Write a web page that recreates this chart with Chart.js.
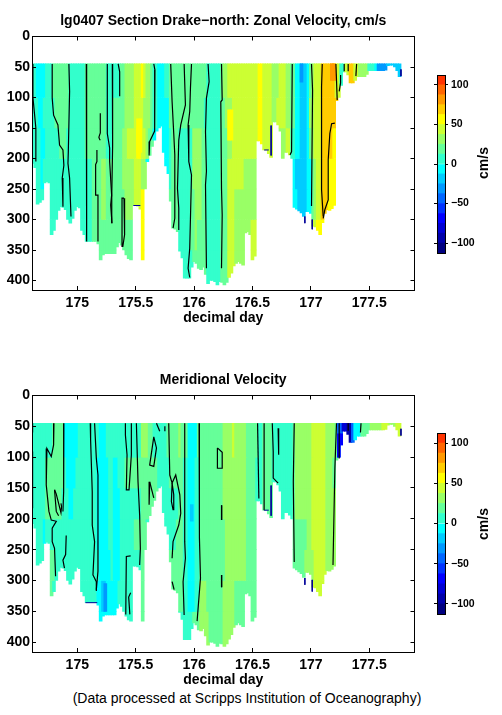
<!DOCTYPE html>
<html>
<head>
<meta charset="utf-8">
<title>lg0407 Section Drake-north</title>
<script src="https://cdn.jsdelivr.net/npm/chart.js@4"></script>
<style>
    html, body { margin: 0; padding: 0; background: #fff; }
    body { position: relative; width: 502px; height: 715px; overflow: hidden; font-family: "Liberation Sans", sans-serif; color: #000; }
    canvas { position: absolute; }
    .unidad { position: absolute; font-weight: bold; font-size: 14px; line-height: 16px; width: 50px; text-align: center; transform: rotate(-90deg); }
    #nota { position: absolute; left: 0; width: 494px; text-align: center; top: 690px; font-size: 14px; line-height: 16px; }
</style>
</head>
<body>
<canvas id="zonal-canvas" style="left:0;top:0"></canvas>
<canvas id="meridional-canvas" style="left:0;top:359px"></canvas>
<canvas id="zonal-bar-canvas" style="left:425px;top:65px"></canvas>
<canvas id="meridional-bar-canvas" style="left:425px;top:423px"></canvas>
<div class="unidad" style="left:458px;top:155px">cm/s</div>
<div class="unidad" style="left:458px;top:516px">cm/s</div>
<div id="nota">(Data processed at Scripps Institution of Oceanography)</div>

<script>
// columnas del transecto (decimal day)
const days = [
    174.62, 174.64, 174.66, 174.68, 174.70, 174.72, 174.74, 174.76, 174.78, 174.80,
    174.82, 174.84, 174.86, 174.88, 174.90, 174.92, 174.94, 174.96, 174.98, 175.00,
    175.02, 175.04, 175.06, 175.08, 175.10, 175.12, 175.14, 175.16, 175.18, 175.20,
    175.22, 175.24, 175.26, 175.28, 175.30, 175.32, 175.34, 175.36, 175.38, 175.40,
    175.42, 175.44, 175.46, 175.48, 175.50, 175.52, 175.54, 175.56, 175.58, 175.60,
    175.62, 175.64, 175.66, 175.68, 175.70, 175.72, 175.74, 175.76, 175.78, 175.80,
    175.82, 175.84, 175.86, 175.88, 175.90, 175.92, 175.94, 175.96, 175.98, 176.00,
    176.02, 176.04, 176.06, 176.08, 176.10, 176.12, 176.14, 176.16, 176.18, 176.20,
    176.22, 176.24, 176.26, 176.28, 176.30, 176.32, 176.34, 176.36, 176.38, 176.40,
    176.42, 176.44, 176.46, 176.48, 176.50, 176.52, 176.54, 176.56, 176.58, 176.60,
    176.62, 176.64, 176.66, 176.68, 176.70, 176.72, 176.74, 176.76, 176.78, 176.80,
    176.82, 176.84, 176.86, 176.88, 176.90, 176.92, 176.94, 176.96, 176.98, 177.00,
    177.02, 177.04, 177.06, 177.08, 177.10, 177.12, 177.14, 177.16, 177.18, 177.20,
    177.22, 177.24, 177.26, 177.28, 177.30, 177.32, 177.34, 177.36, 177.38, 177.40,
    177.42, 177.44, 177.46, 177.48, 177.50, 177.52, 177.54, 177.56, 177.58, 177.60,
    177.62, 177.64, 177.66, 177.68, 177.70, 177.72, 177.74, 177.76
];

// profundidad maxima con datos en cada columna
const bottomDepth = [
    208, 215, 275, 272, 268, 240, 238, 240, 325, 318,
    300, 285, 279, 280, 284, 300, 306, 298, 285, 279,
    281, 318, 325, 336, 336, 336, 336, 336, 340, 366,
    358, 356, 356, 356, 356, 356, 345, 338, 342, 350,
    358, 364, 366, 277, 277, 278, 283, 366, 250, 205,
    195, 180, 170, 155, 150, 147, 190, 212, 225, 270,
    314, 316, 320, 352, 363, 396, 396, 396, 378, 369,
    372, 380, 382, 378, 390, 405, 400, 400, 402, 407,
    402, 403, 407, 403, 395, 388, 376, 372, 369, 372,
    375, 322, 320, 325, 366, 360, 171, 171, 176, 186,
    186, 192, 198, 140, 140, 145, 155, 200, 190, 190,
    194, 200, 280, 283, 286, 289, 295, 287, 287, 290,
    311, 312, 318, 325, 305, 290, 284, 285, 282, 277,
    105, 100, 80, 58, 58, 63, 76, 76, 72, 66,
    66, 66, 66, 62, 56, 56, 56, 56, 56, 56,
    56, 55, 48, 47, 47, 50, 56, 66
];

// capas de profundidad
const layerTops = [45, 100, 150, 200, 250, 300, 350];
const layerBottoms = [100, 150, 200, 250, 300, 350, 410];

// Zonal: por capa, dia donde termina cada banda y su velocidad (cm/s)
const zonalBandEnds = [
    [174.66, 174.73, 174.785, 174.93, 175.08, 175.255, 175.37, 175.41, 175.50, 175.55, 175.565, 175.60, 175.63, 175.655, 175.70, 175.75, 175.80, 175.98, 176.12, 176.235, 176.26, 176.29, 176.55, 176.60, 176.68, 176.73, 176.80, 176.84, 176.87, 176.88, 176.91, 176.97, 176.99, 177.0, 177.015, 177.035, 177.09, 177.178, 177.22, 177.255, 177.292, 177.335, 177.378, 177.42, 177.492, 177.55, 177.578, 177.644, 177.77],
    [174.67, 174.72, 174.805, 174.94, 175.07, 175.26, 175.305, 175.406, 175.49, 175.577, 175.626, 175.655, 175.70, 175.80, 175.86, 175.92, 176.10, 176.235, 176.27, 176.33, 176.55, 176.60, 176.68, 176.72, 176.80, 176.84, 176.87, 176.915, 176.97, 176.995, 177.03, 177.09, 177.23],
    [174.69, 174.73, 174.86, 174.92, 175.08, 175.25, 175.31, 175.40, 175.44, 175.51, 175.555, 175.60, 175.62, 175.66, 175.79, 175.82, 175.88, 175.99, 176.065, 176.105, 176.235, 176.29, 176.335, 176.55, 176.60, 176.68, 176.80, 176.84, 176.875, 176.91, 176.97, 176.99, 177.01, 177.03, 177.09, 177.19, 177.22],
    [174.69, 174.72, 175.135, 175.22, 175.25, 175.40, 175.50, 175.56, 175.60, 175.79, 175.82, 175.88, 175.99, 176.065, 176.105, 176.235, 176.29, 176.44, 176.55, 176.85, 176.88, 176.97, 177.005, 177.03, 177.06, 177.09, 177.16, 177.22],
    [175.135, 175.22, 175.26, 175.41, 175.50, 175.55, 175.57, 175.80, 175.88, 175.975, 176.01, 176.065, 176.105, 176.235, 176.29, 176.36, 176.53, 176.885, 176.97, 177.005, 177.03, 177.06, 177.09, 177.16, 177.21],
    [175.135, 175.18, 175.47, 175.57, 175.80, 175.88, 175.98, 176.01, 176.04, 176.105, 176.235, 176.29, 176.35, 176.44, 176.50, 176.53, 176.885, 176.97, 177.005, 177.06, 177.12],
    [175.47, 175.57, 175.99, 176.05, 176.105, 176.235, 176.29, 176.36, 176.44, 176.53]
];
const zonalBandValues = [
    [6, -6, 6, 19, 6, 19, 6, 19, 31, 44, 56, 44, 31, 19, 6, -6, 6, 19, 19, 6, 19, 31, 44, 56, 44, 31, 44, 31, 19, 6, -6, -19, -6, 6, 19, 31, 44, 69, 69, 44, 6, 44, 69, 44, 31, 6, -6, -31, -19],
    [6, -6, 6, 19, 6, 19, 6, 19, 31, 44, 31, 19, 6, -6, 19, 19, 19, 6, 19, 31, 44, 56, 44, 31, 44, 31, 19, -6, -19, -6, 31, 44, 69],
    [6, -6, 6, 19, 6, 19, 6, 19, 31, 44, 56, 44, 31, 19, -6, 6, 19, 6, 31, 19, 6, 19, 31, 44, 56, 44, 31, 44, 6, -6, -19, -6, 19, 31, 44, 69, 56],
    [6, -6, 6, 19, 31, 19, 31, 44, 31, -6, 6, 19, 6, 31, 19, 6, 19, 44, 31, 31, -6, -19, -6, 19, 31, 44, 69, 56],
    [6, 19, 31, 19, 31, 44, 56, 6, 19, 6, 19, 31, 19, 6, 19, 44, 31, -6, -19, -6, 19, 31, 44, 69, 56],
    [6, 19, 19, 56, 6, 19, 6, 19, 31, 19, 6, 19, 44, 31, 31, 44, -6, -19, -6, 44, 56],
    [19, 56, 6, 19, 19, 6, 19, 44, 31, 44]
];
// manchas locales: dia inicial, dia final, prof. arriba, prof. abajo, cm/s
const zonalPatches = [
    [175.515, 175.555, 135, 190, 56],
    [176.298, 176.335, 120, 170, 56],
    [177.18, 177.22, 45, 72, 81],
    [176.915, 176.935, 45, 75, -31]
];

// Meridional
const meridionalBandEnds = [
    [174.79, 174.89, 175.02, 175.19, 175.26, 175.55, 175.61, 175.66, 175.78, 175.88, 175.89, 175.95, 176.04, 176.25, 176.335, 176.355, 176.45, 176.544, 176.60, 176.678, 176.85, 176.88, 177.02, 177.13, 177.215, 177.235, 177.265, 177.32, 177.35, 177.38, 177.435, 177.52, 177.615, 177.665, 177.735, 177.77],
    [174.735, 174.89, 174.915, 175.0, 175.175, 175.265, 175.32, 175.35, 175.42, 175.55, 175.70, 175.80, 175.92, 175.95, 176.02, 176.043, 176.25, 176.34, 176.45, 176.54, 176.60, 176.678, 176.85, 176.88, 177.02, 177.13, 177.2, 177.23],
    [174.735, 174.88, 174.935, 174.98, 175.175, 175.265, 175.32, 175.365, 175.49, 175.55, 175.70, 175.88, 175.92, 175.95, 176.02, 176.045, 176.26, 176.45, 176.54, 176.60, 176.68, 176.85, 176.88, 177.02, 177.13, 177.2],
    [174.72, 174.73, 175.17, 175.265, 175.32, 175.365, 175.49, 175.60, 175.86, 175.92, 175.95, 176.02, 176.05, 176.28, 176.45, 176.53, 176.97, 177.02, 177.13, 177.2],
    [174.78, 174.805, 175.19, 175.29, 175.32, 175.38, 175.55, 175.57, 175.92, 175.95, 176.02, 176.05, 176.28, 176.45, 176.53, 176.96, 177.04, 177.13, 177.21],
    [174.79, 175.17, 175.22, 175.245, 175.36, 175.55, 175.575, 175.92, 175.95, 176.01, 176.05, 176.12, 176.26, 176.36, 176.44, 176.53, 177.0, 177.07, 177.13],
    [175.20, 175.33, 175.55, 175.575, 175.99, 176.05, 176.13, 176.25, 176.36, 176.44, 176.53]
];
const meridionalBandValues = [
    [6, 19, -6, 6, -6, 6, 31, 19, 6, 19, 31, 19, -6, 19, 31, 44, 31, 19, 6, 19, 6, 19, 31, 44, 31, 19, -44, -81, -94, -44, -6, 19, 31, 44, 31, 44],
    [6, 19, 6, -6, 6, -6, 6, -6, 6, 19, 19, 6, 19, 6, -6, 6, 19, 31, 31, 19, 6, 19, 6, 19, 31, 44, 31, 19],
    [6, 19, 6, -6, 6, -6, 6, -6, 6, 6, 19, 6, 19, 6, -6, 6, 19, 31, 19, 6, 19, 6, 19, 31, 44, 31],
    [6, -6, 6, -6, 6, -6, 6, 19, 6, 19, 6, -6, 6, 19, 31, 19, 19, 31, 44, 31],
    [6, 19, 6, -6, 6, -6, 6, 19, 19, 6, -6, 6, 19, 31, 19, 19, 31, 44, 31],
    [19, 6, -6, -19, -6, 6, 19, 19, 6, -6, 6, 31, 19, 31, 19, 19, 19, 44, 44],
    [6, -6, 6, 19, 6, 19, 31, 19, 31, 19, 19]
];
const meridionalPatches = [
    [177.23, 177.30, 62, 105, -69],
    [175.975, 175.985, 177, 204, -19],
    [175.225, 175.245, 305, 350, -31]
];

// isolineas negras, pares [dia, profundidad]
const zonalContours = [
    [[174.617, 45], [174.62, 100], [174.635, 130], [174.645, 150], [174.645, 205]],
    [[174.785, 45], [174.785, 101], [174.797, 129], [174.834, 145], [174.848, 178], [174.877, 186], [174.885, 211], [174.871, 232], [174.877, 279]],
    [[174.928, 45], [174.934, 90], [174.923, 189], [174.92, 208], [174.934, 232], [174.946, 295]],
    [[175.077, 45], [175.077, 167], [175.083, 336]],
    [[175.168, 186], [175.168, 205], [175.157, 210], [175.157, 260], [175.177, 260], [175.177, 336]],
    [[175.257, 45], [175.257, 159], [175.277, 183], [175.277, 205], [175.294, 260], [175.286, 276], [175.297, 306]],
    [[175.30, 45], [175.305, 100], [175.30, 180], [175.295, 260], [175.295, 306]],
    [[175.35, 45], [175.363, 58], [175.363, 98]],
    [[175.197, 126], [175.197, 158], [175.185, 165], [175.19, 168], [175.197, 170]],
    [[175.40, 265], [175.405, 325], [175.39, 344], [175.383, 325], [175.383, 265], [175.40, 265]],
    [[175.655, 45], [175.665, 55], [175.665, 130], [175.66, 155], [175.62, 172], [175.615, 195]],
    [[175.80, 45], [175.812, 107], [175.826, 159], [175.835, 194], [175.835, 298], [175.82, 314]],
    [[175.915, 45], [175.926, 112], [175.886, 145], [175.869, 170], [175.858, 249], [175.869, 281], [175.869, 317]],
    [[175.978, 45], [175.969, 85], [175.963, 123], [175.949, 145], [175.955, 205], [175.978, 227], [175.963, 347], [175.949, 380], [175.963, 395]],
    [[176.12, 45], [176.129, 74], [176.106, 101], [176.098, 156], [176.106, 221], [176.098, 243], [176.106, 380]],
    [[176.235, 45], [176.241, 104], [176.229, 107], [176.235, 249], [176.241, 292], [176.235, 380]],
    [[176.841, 45], [176.835, 189], [176.821, 194]],
    [[177.006, 45], [177.015, 88], [177.006, 278]],
    [[177.098, 45], [177.092, 82], [177.092, 251], [177.106, 295]],
    [[177.215, 45], [177.226, 104]],
    [[177.206, 142], [177.178, 143], [177.163, 159], [177.149, 202], [177.149, 268], [177.12, 284], [177.106, 298]],
    [[177.255, 63], [177.255, 76], [177.243, 90]],
    [[177.286, 45], [177.286, 57]],
    [[177.32, 45], [177.32, 57]],
    [[177.392, 45], [177.386, 65]]
];
const meridionalContours = [
    [[174.615, 45], [174.617, 60]],
    [[174.617, 91], [174.617, 183]],
    [[174.80, 45], [174.797, 80], [174.777, 99], [174.74, 86], [174.734, 113], [174.734, 145], [174.757, 188], [174.777, 202], [174.82, 204], [174.785, 215], [174.785, 237], [174.805, 248], [174.814, 293]],
    [[174.885, 45], [174.883, 156], [174.877, 188]],
    [[174.805, 153], [174.82, 160], [174.86, 190], [174.865, 180], [174.86, 175]],
    [[174.805, 153], [174.82, 188], [174.84, 195]],
    [[174.905, 227], [174.90, 258], [174.877, 267], [174.89, 280]],
    [[175.111, 45], [175.114, 72], [175.128, 156], [175.128, 210], [175.148, 237], [175.134, 291], [175.163, 302], [175.163, 317]],
    [[175.148, 45], [175.163, 102], [175.177, 129], [175.177, 285], [175.163, 315]],
    [[175.412, 45], [175.412, 64], [175.426, 96], [175.42, 153], [175.443, 153], [175.463, 96], [175.463, 45]],
    [[175.506, 45], [175.52, 140], [175.534, 194], [175.54, 248], [175.534, 275]],
    [[175.457, 260], [175.42, 261], [175.415, 355]],
    [[175.457, 320], [175.44, 327], [175.45, 355]],
    [[175.655, 67], [175.62, 113], [175.655, 115], [175.678, 85], [175.655, 67]],
    [[175.62, 140], [175.615, 177]],
    [[175.62, 140], [175.655, 166]],
    [[175.678, 45], [175.706, 58]],
    [[175.75, 50], [175.75, 58]],
    [[175.783, 45], [175.792, 129], [175.812, 142], [175.843, 129], [175.878, 161], [175.886, 191], [175.869, 210], [175.82, 237], [175.812, 264]],
    [[175.812, 142], [175.806, 172], [175.82, 185], [175.826, 161], [175.812, 142]],
    [[175.92, 45], [175.92, 237], [175.926, 264], [175.906, 302], [175.915, 356]],
    [[175.812, 302], [175.829, 315]],
    [[176.043, 45], [176.049, 199], [176.043, 231], [176.055, 296], [176.026, 366]],
    [[176.20, 85], [176.20, 118], [176.241, 118], [176.241, 92], [176.20, 85]],
    [[176.235, 178], [176.235, 202]],
    [[176.237, 178], [176.237, 202]],
    [[176.235, 291], [176.235, 311]],
    [[176.237, 291], [176.237, 311]],
    [[176.544, 45], [176.555, 167]],
    [[176.60, 45], [176.60, 186]],
    [[176.67, 45], [176.678, 91], [176.678, 134], [176.72, 142]],
    [[176.72, 53], [176.72, 96], [176.727, 96], [176.727, 80]],
    [[176.858, 45], [176.85, 140], [176.858, 270]],
    [[177.22, 45], [177.206, 118], [177.19, 275]],
    [[177.243, 45], [177.243, 102]],
    [[177.32, 45], [177.32, 57]],
    [[177.43, 45], [177.425, 60]]
];

// trazos azul oscuro al borde de los datos
const zonalStubs = [
    [[176.66, 146], [176.66, 195]],
    [[176.60, 186], [176.64, 186]],
    [[175.48, 277], [175.54, 277]],
    [[176.949, 295], [176.949, 306]],
    [[177.012, 300], [177.012, 316]],
    [[177.772, 54], [177.772, 65]]
];
const meridionalStubs = [
    [[175.07, 336], [175.171, 336]],
    [[176.66, 146], [176.66, 195]],
    [[176.60, 186], [176.64, 186]],
    [[176.949, 296], [176.949, 307]],
    [[177.012, 299], [177.012, 318]],
    [[177.772, 54], [177.772, 65]]
];

// barra de colores
const levelEdges = [-112.5, -100, -87.5, -75, -62.5, -50, -37.5, -25, -12.5, 0, 12.5, 25, 37.5, 50, 62.5, 75, 87.5, 100, 112.5];
const levelColors = ['#000080', '#0000aa', '#0000d4', '#0000ff', '#0033ff', '#0066ff', '#0099ff', '#00ccff', '#00ffff',
    '#33ffcc', '#66ff99', '#99ff66', '#ccff33', '#ffff00', '#ffcc00', '#ff9900', '#ff6600', '#ff3300'];

const dayTicksMin = 174.612;
const dayTicksMax = 177.888;

Chart.defaults.font.family = '"Liberation Sans", sans-serif';
Chart.defaults.color = '#000';
Chart.defaults.animation = false;

function colorDe(valor) {
    for (let i = 0; i < levelColors.length; i++) {
        if (valor < levelEdges[i + 1]) return levelColors[i];
    }
    return levelColors[levelColors.length - 1];
}

// velocidad de la banda que contiene a un dia
function valorEnBanda(ends, values, dia) {
    for (let i = 0; i < ends.length; i++) {
        if (dia < ends[i]) return values[i];
    }
    return values[values.length - 1];
}

function barrasDeCapa(ends, values, top, bottom) {
    const data = [];
    const colors = [];
    days.forEach((dia, i) => {
        if (bottomDepth[i] <= top) return;
        data.push({ x: dia, y: [top, Math.min(bottom, bottomDepth[i])] });
        colors.push(colorDe(valorEnBanda(ends, values, dia)));
    });
    return { type: 'bar', data: data, backgroundColor: colors, barThickness: 3, grouped: false, order: 3 };
}

function barrasDeMancha(mancha) {
    const data = [];
    days.forEach((dia, i) => {
        if (dia < mancha[0] || dia >= mancha[1] || bottomDepth[i] <= mancha[2]) return;
        data.push({ x: dia, y: [mancha[2], Math.min(mancha[3], bottomDepth[i])] });
    });
    return { type: 'bar', data: data, backgroundColor: colorDe(mancha[4]), barThickness: 3, grouped: false, order: 2 };
}

function linea(puntos, color, ancho) {
    return {
        type: 'line',
        data: puntos.map(p => ({ x: p[0], y: p[1] })),
        borderColor: color,
        borderWidth: ancho,
        pointRadius: 0,
        tension: 0,
        fill: false,
        order: 1
    };
}

function dibujarPanel(id, titulo, ends, values, patches, contours, stubs, alto, yMax) {
    const canvas = document.getElementById(id);
    canvas.width = 430;
    canvas.height = alto;
    canvas.style.width = '430px';
    canvas.style.height = alto + 'px';

    const datasets = [];
    layerTops.forEach((top, i) => datasets.push(barrasDeCapa(ends[i], values[i], top, layerBottoms[i])));
    patches.forEach(m => datasets.push(barrasDeMancha(m)));
    stubs.forEach(s => datasets.push(linea(s, '#000099', 1)));
    contours.forEach(c => datasets.push(linea(c, '#000', 1.2)));

    const marca = { display: true, drawOnChartArea: false, drawTicks: true, tickLength: -4, color: '#000', z: 1 };
    const borde = { display: true, color: '#000', width: 1, z: 1 };
    const fuente = { size: 14, weight: 'bold' };

    new Chart(canvas, {
        data: { datasets: datasets },
        options: {
            responsive: false,
            layout: { padding: 0 },
            plugins: {
                legend: { display: false },
                tooltip: { enabled: false },
                title: {
                    display: true,
                    text: titulo,
                    fullSize: false,
                    font: { size: 14, weight: 'bold' },
                    color: '#000',
                    padding: { top: 12.5, bottom: 7.2 }
                }
            },
            scales: {
                x: {
                    type: 'linear', position: 'bottom', min: dayTicksMin, max: dayTicksMax, offset: false,
                    grid: Object.assign({ offset: false }, marca), border: borde,
                    ticks: { stepSize: 0.5, includeBounds: false, font: fuente, padding: 9, maxRotation: 0, callback: v => String(v) },
                    title: { display: true, text: 'decimal day', font: fuente, padding: { top: 0, bottom: 1 } },
                    afterFit: s => { s.height = 38; }
                },
                x2: {
                    type: 'linear', axis: 'x', position: 'top', min: dayTicksMin, max: dayTicksMax,
                    grid: Object.assign({}, marca), border: borde,
                    ticks: { stepSize: 0.5, includeBounds: false, display: false },
                    afterFit: s => { s.height = 0; }
                },
                y: {
                    type: 'linear', position: 'left', reverse: true, min: 0, max: yMax,
                    grid: Object.assign({}, marca), border: borde,
                    ticks: { stepSize: 50, includeBounds: false, font: fuente, padding: 6 },
                    afterFit: s => { s.width = 32; }
                },
                y2: {
                    type: 'linear', axis: 'y', position: 'right', reverse: true, min: 0, max: yMax,
                    grid: Object.assign({}, marca), border: borde,
                    ticks: { stepSize: 50, includeBounds: false, display: false },
                    afterFit: s => { s.width = 15.5; }
                }
            }
        }
    });
}

function dibujarBarra(id, alto) {
    const canvas = document.getElementById(id);
    canvas.width = 60;
    canvas.height = alto;
    canvas.style.width = '60px';
    canvas.style.height = alto + 'px';

    const datasets = levelColors.map((color, i) => ({
        data: [[levelEdges[i], levelEdges[i + 1]]],
        backgroundColor: color,
        grouped: false,
        barPercentage: 1,
        categoryPercentage: 1
    }));
    const borde = { display: true, color: '#000', width: 1, z: 1 };

    new Chart(canvas, {
        type: 'bar',
        data: { labels: [''], datasets: datasets },
        options: {
            responsive: false,
            layout: { padding: { top: 10, bottom: 10 } },
            plugins: { legend: { display: false }, tooltip: { enabled: false } },
            scales: {
                x: {
                    position: 'bottom',
                    grid: { display: false }, border: borde,
                    ticks: { display: false },
                    afterFit: s => { s.height = 0; }
                },
                x2: {
                    type: 'category', axis: 'x', position: 'top', labels: [''],
                    grid: { display: false }, border: borde,
                    ticks: { display: false },
                    afterFit: s => { s.height = 0; }
                },
                y: {
                    position: 'right', min: -112.5, max: 112.5,
                    grid: { drawOnChartArea: false, tickLength: 3, color: '#000' }, border: borde,
                    ticks: {
                        stepSize: 50, includeBounds: false, padding: 3,
                        font: { size: 10.5, weight: 'bold' },
                        callback: v => String(v).replace('-', '\u2212')
                    },
                    afterFit: s => { s.width = 40; }
                },
                y2: {
                    axis: 'y', position: 'left', min: -112.5, max: 112.5,
                    grid: { drawOnChartArea: false, tickLength: 3, color: '#000' }, border: borde,
                    ticks: { stepSize: 50, includeBounds: false, display: false },
                    afterFit: s => { s.width = 12; }
                }
            }
        }
    });
}

dibujarPanel('zonal-canvas', 'lg0407 Section Drake\u2212north: Zonal Velocity, cm/s', zonalBandEnds, zonalBandValues, zonalPatches, zonalContours, zonalStubs, 328, 415.5);
dibujarPanel('meridional-canvas', 'Meridional Velocity', meridionalBandEnds, meridionalBandValues, meridionalPatches, meridionalContours, meridionalStubs, 331, 416);
dibujarBarra('zonal-bar-canvas', 198);
dibujarBarra('meridional-bar-canvas', 201);
</script>
</body>
</html>
